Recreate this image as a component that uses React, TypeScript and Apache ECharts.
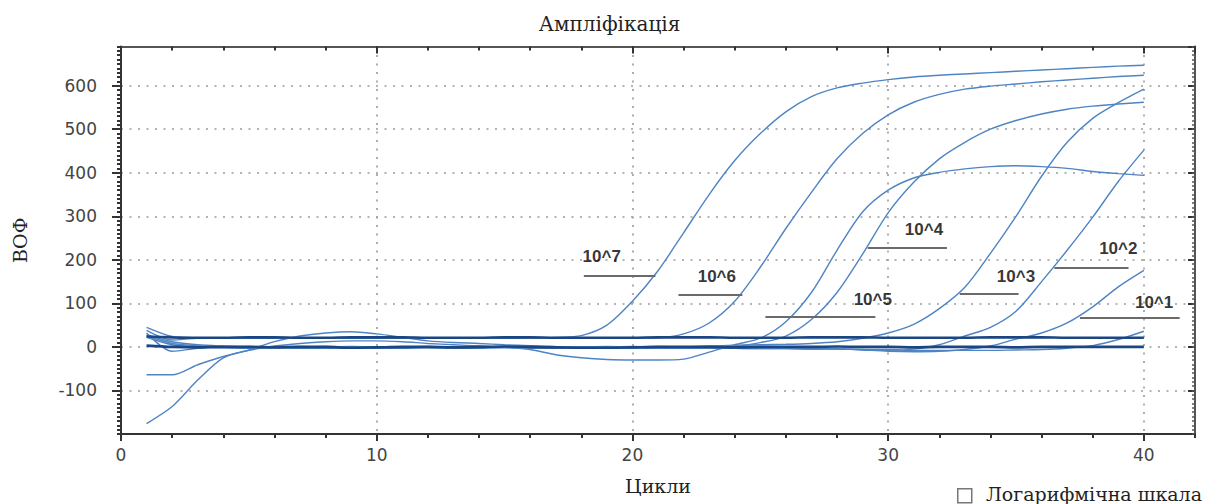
import React, { useEffect, useRef } from 'react';
import * as echarts from 'echarts';

// ---- data ----
const cycles = [1, 2, 3, 4, 5, 6, 7, 8, 9, 10, 11, 12, 13, 14, 15, 16, 17, 18, 19, 20, 21, 22, 23, 24, 25, 26, 27, 28, 29, 30, 31, 32, 33, 34, 35, 36, 37, 38, 39, 40];

const curve10e7 = [45, 24, 20, 21, 20, 20, 21, 20, 20, 20, 21, 20, 20, 20, 20, 21, 22, 26, 50, 105, 175, 262, 350, 428, 490, 540, 575, 595, 606, 614, 620, 624, 627, 630, 633, 636, 639, 642, 645, 647];
const curve10e6 = [38, 16, 20, 20, 21, 20, 20, 21, 20, 20, 20, 21, 20, 20, 20, 21, 20, 20, 21, 20, 21, 30, 55, 105, 183, 272, 355, 432, 490, 533, 562, 580, 592, 599, 604, 609, 613, 617, 621, 624];
const curve10e5 = [-64, -64, -41, -22, -8, 2, 8, 12, 14, 14, 12, 8, 5, 2, -1, -6, -18, -25, -29, -30, -30, -28, -12, 5, 20, 58, 125, 222, 310, 360, 388, 401, 409, 414, 416, 414, 410, 403, 398, 394];
const curve10e4 = [32, -10, -3, 0, 1, 0, -1, 0, 1, 0, 0, 1, 0, -1, 0, 1, 0, 0, 1, 0, 1, 0, 1, 2, 10, 25, 63, 125, 213, 308, 378, 432, 470, 500, 520, 535, 546, 553, 558, 562];
const curve10e3 = [-176, -137, -76, -25, -7, 12, 25, 32, 35, 30, 22, 14, 10, 8, 5, 3, 1, 0, -2, -3, -2, 0, 2, 4, 5, 6, 8, 12, 20, 32, 52, 88, 137, 215, 300, 392, 470, 525, 561, 592];
const curve10e2 = [22, 5, 0, -2, -3, -2, -3, -3, -2, -3, -3, -2, -3, -3, -2, -3, -3, -2, -3, -3, -3, -2, -3, -3, -4, -4, -5, -5, -6, -8, -5, 5, 25, 45, 82, 150, 222, 298, 380, 452];
const curve10e1 = [28, 12, 5, 2, 0, -1, 0, 1, 0, 0, -1, 0, 0, 1, 0, 0, -1, 0, 0, 1, 0, 0, -1, -2, -2, -3, -3, -4, -7, -10, -11, -10, -6, 2, 18, 32, 55, 92, 138, 176];
const curveLate = [25, 8, 3, 1, 0, 0, 1, 0, -1, 0, 0, -1, 0, 0, 1, 0, -1, -2, -2, -3, -3, -3, -3, -3, -4, -4, -5, -5, -6, -6, -8, -8, -8, -8, -7, -6, -3, 3, 17, 36];
const negativeHigh = [24, 22, 21, 21, 22, 22, 21, 21, 22, 22, 22, 21, 21, 21, 22, 22, 21, 21, 21, 21, 22, 22, 22, 21, 21, 21, 22, 22, 22, 21, 21, 21, 21, 22, 22, 22, 21, 21, 21, 21];
const negativeLow = [3, 0, -1, 0, 0, -1, 0, 0, -2, -1, 0, 0, -1, 0, 1, 0, -1, -2, -2, -1, 0, 0, 0, -1, 0, 0, 0, 1, 0, 0, -1, 0, 0, 0, -1, 0, 0, 0, 0, 0];

const lightNames = ['10^7', '10^6', '10^5', '10^4', '10^3', '10^2', '10^1', 'late'];
const lightCurves = [curve10e7, curve10e6, curve10e5, curve10e4, curve10e3, curve10e2, curve10e1, curveLate];

// annotation labels (data coordinates)
const labelNames = ['10^7', '10^6', '10^5', '10^4', '10^3', '10^2', '10^1'];
const labelX = [18.8, 23.3, 29.4, 31.4, 35.0, 39.0, 40.4];
const labelY = [207, 161, 110, 269, 161, 227, 103];
const lineStart = [18.1, 21.8, 25.2, 29.2, 32.8, 36.5, 37.5];
const lineEnd = [20.9, 24.3, 29.5, 32.3, 35.1, 39.4, 41.4];
const lineY = [164, 119, 70, 227, 123, 182, 68];

const xTicks = { min: 0, max: 42, major: 10, minor: 2 };
const yTicks = { min: -200, max: 690, major: 100, minor: 10 };

export default function App() {
  const ref = useRef<HTMLDivElement>(null);

  useEffect(() => {
    const chart = echarts.init(ref.current as HTMLDivElement, null, { renderer: 'svg' });
    const pair = (vals: number[]) => cycles.map((c, i) => [c, vals[i]]);
    const axisColor = '#333';
    const light = '#4f84c4';
    const dark = '#1b4682';

    const series: any[] = lightCurves.map((vals, i) => ({
      type: 'line',
      name: lightNames[i],
      data: pair(vals),
      symbol: 'none',
      showSymbol: false,
      smooth: 0.3,
      silent: true,
      lineStyle: { color: light, width: 1.4 },
      z: 2,
    }));
    [negativeHigh, negativeLow].forEach((vals, i) => {
      series.push({
        type: 'line',
        name: i === 0 ? 'neg1' : 'neg2',
        data: pair(vals),
        symbol: 'none',
        showSymbol: false,
        smooth: 0.3,
        silent: true,
        lineStyle: { color: dark, width: 2.6 },
        z: 3,
      });
    });
    series.push({
      type: 'scatter',
      name: 'labels',
      data: labelNames.map((n, i) => ({ name: n, value: [labelX[i], labelY[i]] })),
      symbolSize: 1,
      itemStyle: { color: 'transparent' },
      silent: true,
      label: {
        show: true,
        position: 'inside',
        formatter: '{b}',
        fontFamily: 'Liberation Sans',
        fontWeight: 'bold',
        fontSize: 17,
        color: '#000',
      },
      markLine: {
        silent: true,
        symbol: 'none',
        label: { show: false },
        lineStyle: { color: '#6a6a6a', width: 2, type: 'solid' },
        data: lineStart.map((s, i) => [{ coord: [s, lineY[i]] }, { coord: [lineEnd[i], lineY[i]] }]),
      },
      z: 5,
    });

    const tickLine = { color: axisColor, width: 2 };
    const xBase = { type: 'value', min: xTicks.min, max: xTicks.max, gridIndex: 0 };
    const yBase = { type: 'value', min: yTicks.min, max: yTicks.max, gridIndex: 0 };
    const dotted = { show: true, lineStyle: { color: '#9a9a9a', width: 1.6, type: [2, 6.5] } };

    chart.setOption({
      animation: false,
      backgroundColor: '#ffffff',
      title: {
        text: 'Ампліфікація',
        left: 'center',
        top: 9,
        textStyle: { fontFamily: 'DejaVu Serif', fontSize: 20, fontWeight: 'normal', color: '#222' },
      },
      grid: { left: 121, right: 24, top: 46.5, bottom: 70, containLabel: false },
      xAxis: [
        {
          ...xBase,
          position: 'bottom',
          interval: xTicks.major,
          axisLine: { show: true, onZero: false, lineStyle: tickLine },
          axisTick: { show: true, length: 7, lineStyle: tickLine },
          axisLabel: { show: true, showMaxLabel: false, margin: 12, fontFamily: 'DejaVu Sans', fontSize: 17, color: '#444' },
          splitLine: dotted,
          name: 'Цикли',
          nameLocation: 'middle',
          nameGap: 42,
          nameTextStyle: { fontFamily: 'DejaVu Serif', fontSize: 19, color: '#222' },
        },
        {
          ...xBase,
          position: 'bottom',
          interval: xTicks.minor,
          axisLine: { show: false, onZero: false },
          axisTick: { show: true, length: 4, lineStyle: tickLine },
          axisLabel: { show: false },
          splitLine: { show: false },
        },
        {
          ...xBase,
          position: 'top',
          interval: xTicks.minor,
          axisLine: { show: true, onZero: false, lineStyle: { color: '#555', width: 2 } },
          axisTick: { show: true, inside: true, length: 4, lineStyle: tickLine },
          axisLabel: { show: false },
          splitLine: { show: false },
        },
        {
          ...xBase,
          position: 'top',
          interval: xTicks.major,
          axisLine: { show: false, onZero: false },
          axisTick: { show: true, inside: true, length: 7, lineStyle: tickLine },
          axisLabel: { show: false },
          splitLine: { show: false },
        },
      ],
      yAxis: [
        {
          ...yBase,
          position: 'left',
          interval: yTicks.major,
          axisLine: { show: true, onZero: false, lineStyle: tickLine },
          axisTick: { show: true, length: 9, lineStyle: tickLine },
          axisLabel: { show: true, showMinLabel: false, showMaxLabel: false, margin: 24, fontFamily: 'DejaVu Sans', fontSize: 17, color: '#444' },
          splitLine: dotted,
          name: 'ВОФ',
          nameLocation: 'middle',
          nameGap: 92,
          nameTextStyle: { fontFamily: 'DejaVu Serif', fontSize: 19, color: '#222' },
        },
        {
          ...yBase,
          position: 'left',
          interval: yTicks.minor,
          axisLine: { show: false, onZero: false },
          axisTick: { show: true, length: 4, lineStyle: tickLine },
          axisLabel: { show: false },
          splitLine: { show: false },
        },
        {
          ...yBase,
          position: 'right',
          interval: yTicks.major,
          axisLine: { show: true, onZero: false, lineStyle: { color: '#555', width: 2 } },
          axisTick: { show: true, inside: true, length: 7, lineStyle: tickLine },
          axisLabel: { show: false },
          splitLine: { show: false },
        },
        {
          ...yBase,
          position: 'right',
          interval: yTicks.minor,
          axisLine: { show: false, onZero: false },
          axisTick: { show: true, inside: true, length: 3, lineStyle: { color: '#555', width: 1.5 } },
          axisLabel: { show: false },
          splitLine: { show: false },
        },
      ],
      graphic: [
        {
          type: 'rect',
          left: 957,
          top: 488,
          shape: { width: 14, height: 14 },
          style: { fill: '#ffffff', stroke: '#777', lineWidth: 1.5 },
        },
        {
          type: 'text',
          left: 986,
          top: 484,
          style: { text: 'Логарифмічна шкала', fontFamily: 'DejaVu Serif', fontSize: 19, fill: '#222' },
        },
      ],
      series,
    });

    return () => {
      chart.dispose();
    };
  }, []);

  return <div ref={ref} style={{ position: 'fixed', left: 0, top: 0, width: 1219, height: 504 }} />;
}
